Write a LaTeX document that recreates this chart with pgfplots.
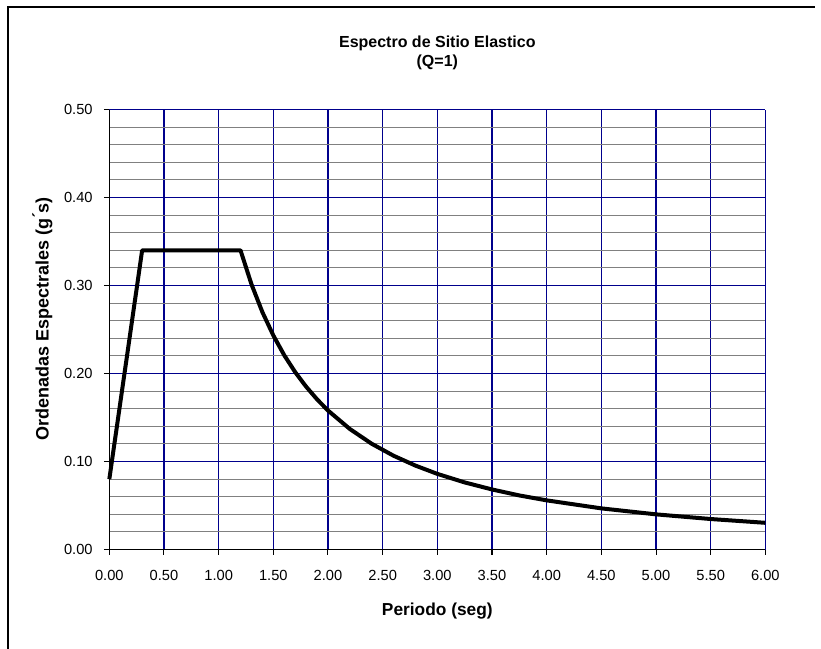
\documentclass[border=0pt]{standalone}
\usepackage{pgfplots}
\pgfplotsset{compat=1.18}
\usepackage{fontspec}
\setmainfont{Liberation Sans}
\definecolor{navyg}{RGB}{0,0,140}
\definecolor{mgray}{RGB}{128,128,128}
\begin{document}
\begin{tikzpicture}[x=0.75pt,y=0.75pt]
\path[use as bounding box] (0,0) rectangle (821,649);
\draw[line width=1.1pt] (8,0) -- (8,642) -- (815,642);
\begin{axis}[
  at={(100,113)}, anchor=south west, scale only axis,
  width=492pt, height=330pt,
  xmin=0, xmax=6, ymin=0, ymax=0.5,
  axis x line*=bottom, axis y line*=left,
  axis line style={black, line width=1pt, -},
  xtick={0,0.5,1,1.5,2,2.5,3,3.5,4,4.5,5,5.5,6},
  ytick={0,0.1,0.2,0.3,0.4,0.5},
  minor ytick={0.02,0.04,0.06,0.08,0.12,0.14,0.16,0.18,0.22,0.24,0.26,0.28,0.32,0.34,0.36,0.38,0.42,0.44,0.46,0.48},
  grid=both,
  major grid style={navyg, line width=0.9pt},
  minor grid style={mgray, line width=0.8pt},
  tick align=outside,
  major tick length=4pt, minor tick length=0pt,
  tick style={black, line width=0.75pt},
  /pgf/number format/.cd, fixed, fixed zerofill, precision=2, assume math mode=true,
  /pgfplots/.cd,
  tick label style={font=\fontsize{11}{13}\selectfont},
  xticklabel style={yshift=-8pt},
  yticklabel style={xshift=-5pt},
  title={Espectro de Sitio Elastico\\(Q=1)},
  title style={font=\fontsize{12}{14.5}\selectfont\bfseries, align=center, at={(rel axis cs:0.5,1.11)}, anchor=center},
  xlabel={Periodo (seg)},
  xlabel style={font=\fontsize{13}{15}\selectfont\bfseries, at={(rel axis cs:0.5,-0.139)}, anchor=center},
  ylabel={Ordenadas Espectrales (g\'{}s)},
  ylabel style={font=\fontsize{13.5}{15}\selectfont\bfseries, at={(rel axis cs:-0.102,0.525)}, anchor=center},
  clip=false,
]
\addplot[black, line width=3pt, line join=round] coordinates {
(0,0.08) (0.3,0.34) (1.2,0.34) (1.3,0.3015) (1.4,0.2698) (1.5,0.2433) (1.6,0.2208)
(1.7,0.2016) (1.8,0.1851) (1.9,0.1707) (2.0,0.1580) (2.2,0.1370) (2.4,0.1202)
(2.6,0.1066) (2.8,0.0954) (3.0,0.0860) (3.25,0.0763) (3.5,0.0683) (3.75,0.0615)
(4.0,0.0559) (4.5,0.0468) (5.0,0.0400) (5.5,0.0347) (6.0,0.0304)
};
\end{axis}
\end{tikzpicture}
\end{document}
